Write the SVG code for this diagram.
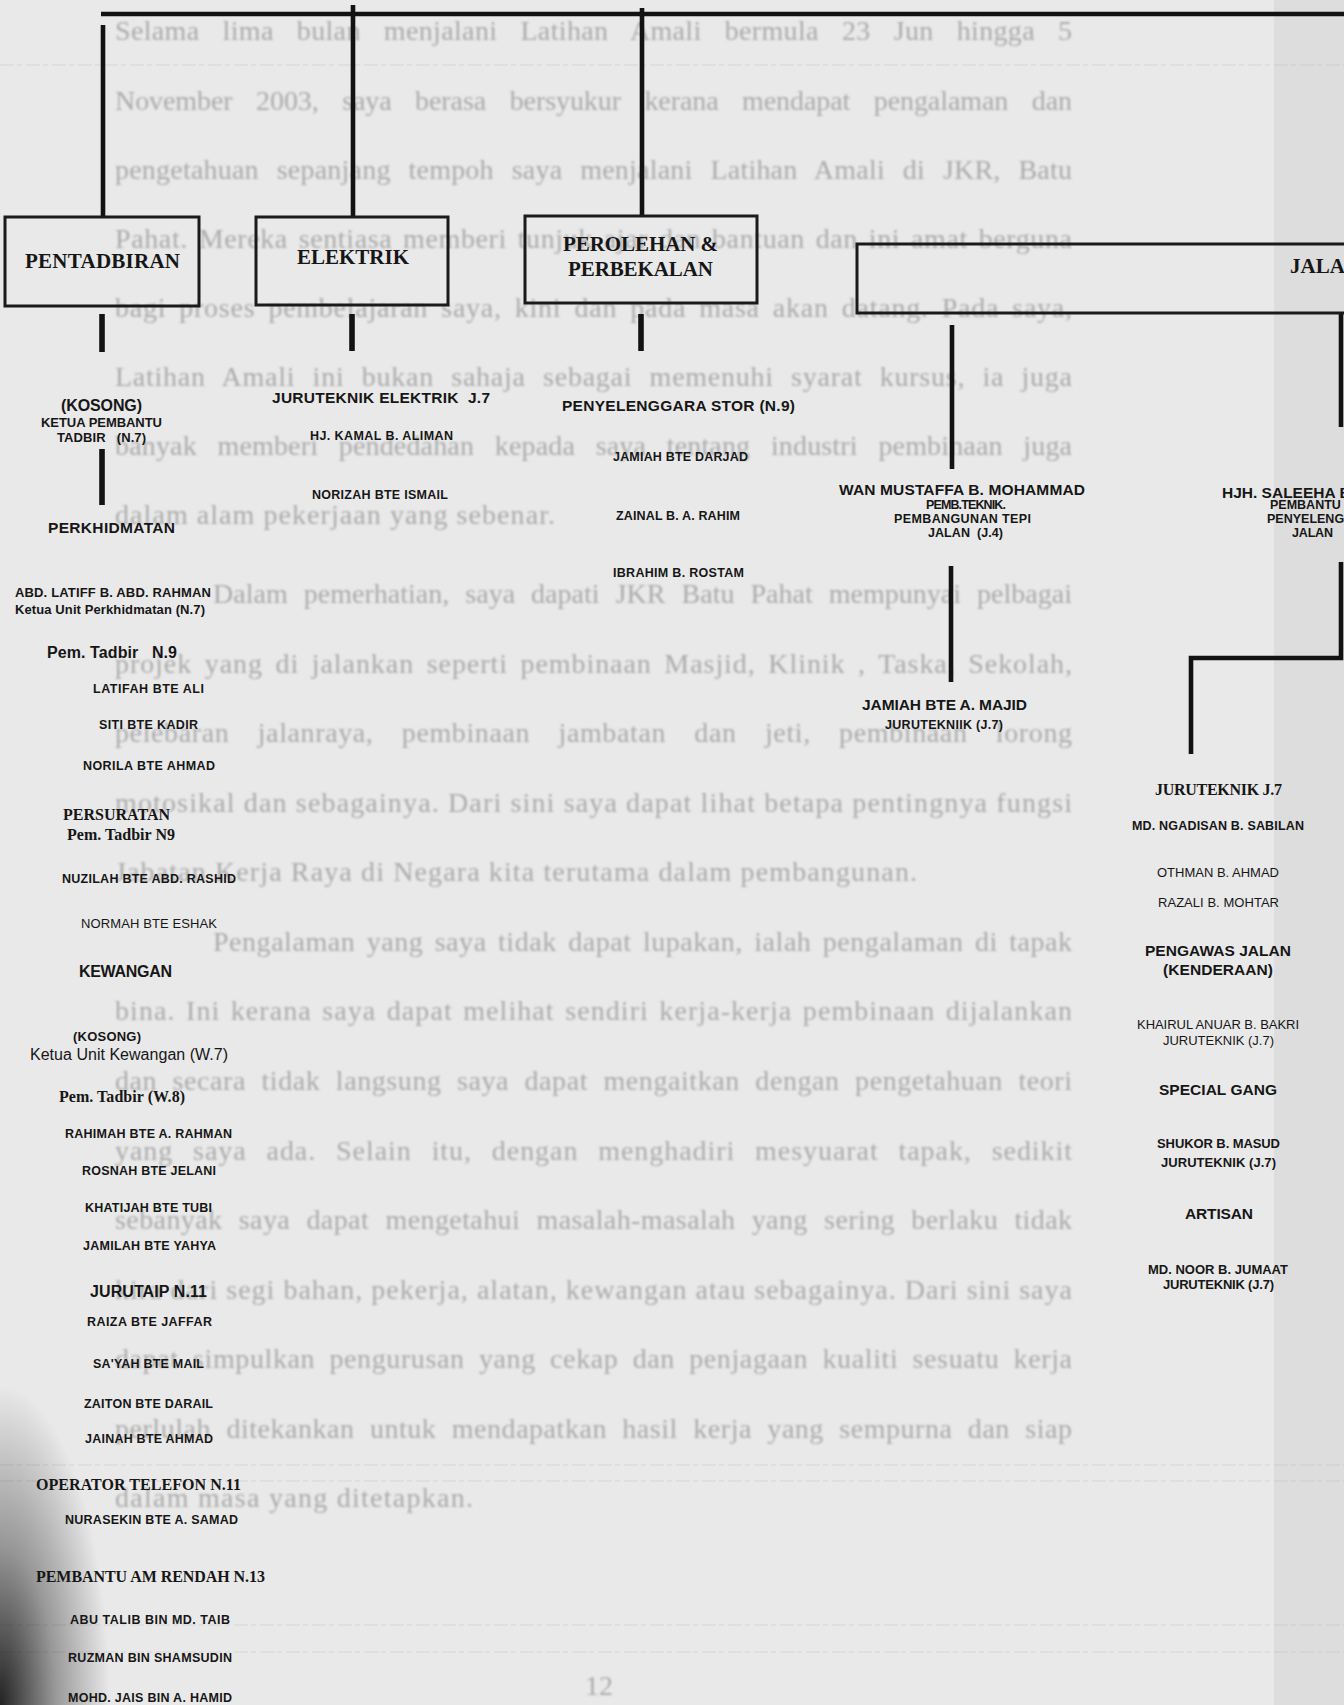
<svg xmlns="http://www.w3.org/2000/svg" width="1344" height="1705" viewBox="0 0 1344 1705">
<defs>
<style>
.bg{font-family:"Liberation Serif","Times New Roman",serif;font-size:28px;fill:#ababab}
.n{font-family:"Liberation Sans",Arial,sans-serif;font-weight:bold;fill:#161616}
.r{font-family:"Liberation Sans",Arial,sans-serif;font-weight:normal;fill:#161616}
.s{font-family:"Liberation Serif","Times New Roman",serif;font-weight:bold;fill:#161616}
.box{fill:none;stroke:#1a1a1a;stroke-width:3}
.ln{stroke:#121212;stroke-width:4.6;fill:none}
.st{stroke:#121212;stroke-width:5.6;fill:none}
.scan{stroke:#bcbcbc;stroke-width:1;stroke-dasharray:14 3 5 4;fill:none;opacity:0.4}
.f12{font-size:12.5px}.f13{font-size:13px}.f15{font-size:15.5px}.f16{font-size:16px}.f21{font-size:21px}
</style>
<filter id="blur" x="-5%" y="-5%" width="110%" height="110%"><feGaussianBlur stdDeviation="1"/></filter>
<radialGradient id="smudge" cx="0" cy="1705" r="1" gradientUnits="userSpaceOnUse" gradientTransform="translate(0 1705) scale(110 320) translate(0 -1705)">
<stop offset="0" stop-color="#000" stop-opacity="0.85"/>
<stop offset="0.5" stop-color="#000" stop-opacity="0.35"/>
<stop offset="1" stop-color="#000" stop-opacity="0"/>
</radialGradient>
</defs>
<rect width="1344" height="1705" fill="#e9e9e9"/>
<rect x="1274" y="0" width="70" height="1705" fill="#000" opacity="0.05"/>
<g id="scan-marks">
<line class="scan" x1="0" y1="65" x2="1344" y2="65"/>
<line class="scan" x1="0" y1="1465" x2="1344" y2="1465"/>
<line class="scan" x1="0" y1="1481" x2="1344" y2="1481"/>
<line class="scan" x1="0" y1="1625" x2="1344" y2="1625"/>
<line class="scan" x1="0" y1="1652" x2="1344" y2="1652"/>
</g>
<rect x="0" y="1380" width="200" height="325" fill="url(#smudge)"/>
<g id="bleed" class="bg" filter="url(#blur)">
<text x="115" y="40" textLength="957" word-spacing="15.7">Selama lima bulan menjalani Latihan Amali bermula 23 Jun hingga 5</text>
<text x="115" y="110" textLength="957" word-spacing="16.6">November 2003, saya berasa bersyukur kerana mendapat pengalaman dan</text>
<text x="115" y="179" textLength="957" word-spacing="10.7">pengetahuan sepanjang tempoh saya menjalani Latihan Amali di JKR, Batu</text>
<text x="115" y="248" textLength="957" word-spacing="3.2">Pahat. Mereka sentiasa memberi tunjuk ajar dan bantuan dan ini amat berguna</text>
<text x="115" y="317" textLength="957" word-spacing="5.4">bagi proses pembelajaran saya, kini dan pada masa akan datang. Pada saya,</text>
<text x="115" y="386" textLength="957" word-spacing="9.6">Latihan Amali ini bukan sahaja sebagai memenuhi syarat kursus, ia juga</text>
<text x="115" y="455" textLength="957" word-spacing="13.5">banyak memberi pendedahan kepada saya tentang industri pembinaan juga</text>
<text x="115" y="524" textLength="440">dalam alam pekerjaan yang sebenar.</text>
<text x="213" y="603" textLength="859" word-spacing="9">Dalam pemerhatian, saya dapati JKR Batu Pahat mempunyai pelbagai</text>
<text x="115" y="673" textLength="957" word-spacing="4.7">projek yang di jalankan seperti pembinaan Masjid, Klinik , Taska, Sekolah,</text>
<text x="115" y="742" textLength="957" word-spacing="20.7">pelebaran jalanraya, pembinaan jambatan dan jeti, pembinaan lorong</text>
<text x="115" y="812" textLength="957">motosikal dan sebagainya. Dari sini saya dapat lihat betapa pentingnya fungsi</text>
<text x="115" y="881" textLength="802">Jabatan Kerja Raya di Negara kita terutama dalam pembangunan.</text>
<text x="213" y="951" textLength="859" word-spacing="3.9">Pengalaman yang saya tidak dapat lupakan, ialah pengalaman di tapak</text>
<text x="115" y="1020" textLength="957" word-spacing="2.4">bina. Ini kerana saya dapat melihat sendiri kerja-kerja pembinaan dijalankan</text>
<text x="115" y="1090" textLength="957" word-spacing="7.9">dan secara tidak langsung saya dapat mengaitkan dengan pengetahuan teori</text>
<text x="115" y="1160" textLength="957" word-spacing="12">yang saya ada. Selain itu, dengan menghadiri mesyuarat tapak, sedikit</text>
<text x="115" y="1229" textLength="957" word-spacing="8.9">sebanyak saya dapat mengetahui masalah-masalah yang sering berlaku tidak</text>
<text x="115" y="1299" textLength="957">kira dari segi bahan, pekerja, alatan, kewangan atau sebagainya. Dari sini saya</text>
<text x="115" y="1368" textLength="957" word-spacing="6.6">dapat simpulkan pengurusan yang cekap dan penjagaan kualiti sesuatu kerja</text>
<text x="115" y="1438" textLength="957" word-spacing="7.9">perlulah ditekankan untuk mendapatkan hasil kerja yang sempurna dan siap</text>
<text x="115" y="1507" textLength="358">dalam masa yang ditetapkan.</text>
<text x="585" y="1695">12</text>
</g>
<g id="connectors">
<line class="ln" x1="101" y1="14" x2="1344" y2="14"/>
<line class="ln" x1="103" y1="25" x2="103" y2="217"/>
<line class="ln" x1="353" y1="5" x2="353" y2="217"/>
<line class="ln" x1="642" y1="8" x2="642" y2="216"/>
<line class="st" x1="102" y1="314" x2="102" y2="352"/>
<line class="st" x1="352" y1="314" x2="352" y2="351"/>
<line class="st" x1="641" y1="314" x2="641" y2="351"/>
<line class="st" x1="102" y1="449" x2="102" y2="505"/>
<line class="ln" x1="952" y1="325" x2="952" y2="469"/>
<line class="ln" x1="951" y1="566" x2="951" y2="682"/>
<line class="ln" x1="1341" y1="313" x2="1341" y2="427"/>
<polyline class="ln" points="1341,562 1341,658 1191,658 1191,754"/>
</g>
<g id="pentadbiran">
<rect class="box" x="5" y="217" width="194" height="89"/>
<text class="s f21" x="25" y="268" textLength="155">PENTADBIRAN</text>
</g>
<g id="elektrik">
<rect class="box" x="256" y="217" width="192" height="88"/>
<text class="s f21" x="297" y="264" textLength="112">ELEKTRIK</text>
</g>
<g id="perolehan">
<rect class="box" x="525" y="216" width="232" height="87"/>
<text class="s f21" x="563" y="251" textLength="155">PEROLEHAN &amp;</text>
<text class="s f21" x="568" y="276" textLength="145">PERBEKALAN</text>
</g>
<g id="jalan">
<rect class="box" x="857" y="244" width="500" height="69"/>
<text class="s f21" x="1290" y="273">JALAN</text>
</g>
<g id="pentadbiran-staff">
<text class="n f16" x="61" y="411" textLength="81">(KOSONG)</text>
<text class="n f13" x="41" y="427" textLength="121">KETUA PEMBANTU</text>
<text class="n f13" x="57" y="442" textLength="89" xml:space="preserve">TADBIR   (N.7)</text>
<text class="n f15" x="48" y="533" textLength="127">PERKHIDMATAN</text>
<text class="n f13" x="15" y="597" textLength="196">ABD. LATIFF B. ABD. RAHMAN</text>
<text class="n f13" x="15" y="614" textLength="190">Ketua Unit Perkhidmatan (N.7)</text>
<text class="n f16" x="47" y="658" textLength="130" xml:space="preserve">Pem. Tadbir   N.9</text>
<text class="n f12" x="93" y="693" textLength="111">LATIFAH BTE ALI</text>
<text class="n f12" x="99" y="729" textLength="99">SITI BTE KADIR</text>
<text class="n f12" x="83" y="770" textLength="132">NORILA BTE AHMAD</text>
<text class="s f16" x="63" y="820" textLength="107">PERSURATAN</text>
<text class="s f16" x="67" y="840" textLength="108">Pem. Tadbir N9</text>
<text class="n f12" x="62" y="883" textLength="174">NUZILAH BTE ABD. RASHID</text>
<text class="r f13" x="81" y="928" textLength="136">NORMAH BTE ESHAK</text>
<text class="n f16" x="79" y="977" textLength="93">KEWANGAN</text>
<text class="n f13" x="73" y="1041" textLength="68">(KOSONG)</text>
<text class="r f16" x="30" y="1060" textLength="198">Ketua Unit Kewangan (W.7)</text>
<text class="s f16" x="59" y="1102" textLength="126">Pem. Tadbir (W.8)</text>
<text class="n f12" x="65" y="1138" textLength="167">RAHIMAH BTE A. RAHMAN</text>
<text class="n f12" x="82" y="1175" textLength="134">ROSNAH BTE JELANI</text>
<text class="n f12" x="85" y="1212" textLength="127">KHATIJAH BTE TUBI</text>
<text class="n f12" x="83" y="1250" textLength="133">JAMILAH BTE YAHYA</text>
<text class="n f16" x="90" y="1297" textLength="117">JURUTAIP N.11</text>
<text class="n f12" x="87" y="1326" textLength="125">RAIZA BTE JAFFAR</text>
<text class="n f12" x="93" y="1368" textLength="111">SA'YAH BTE MAIL</text>
<text class="n f12" x="84" y="1408" textLength="129">ZAITON BTE DARAIL</text>
<text class="n f12" x="85" y="1443" textLength="128">JAINAH BTE AHMAD</text>
<text class="s f16" x="36" y="1490" textLength="205">OPERATOR TELEFON N.11</text>
<text class="n f12" x="65" y="1524" textLength="173">NURASEKIN BTE A. SAMAD</text>
<text class="s f16" x="36" y="1582" textLength="229">PEMBANTU AM RENDAH N.13</text>
<text class="n f12" x="70" y="1624" textLength="160">ABU TALIB BIN MD. TAIB</text>
<text class="n f12" x="68" y="1662" textLength="164">RUZMAN BIN SHAMSUDIN</text>
<text class="n f12" x="68" y="1702" textLength="164">MOHD. JAIS BIN A. HAMID</text>
</g>
<g id="elektrik-staff">
<text class="n f15" x="272" y="403" textLength="218" xml:space="preserve">JURUTEKNIK ELEKTRIK  J.7</text>
<text class="n f12" x="310" y="440" textLength="143">HJ. KAMAL B. ALIMAN</text>
<text class="n f12" x="312" y="499" textLength="136">NORIZAH BTE ISMAIL</text>
</g>
<g id="perolehan-staff">
<text class="n f15" x="562" y="411" textLength="233">PENYELENGGARA STOR (N.9)</text>
<text class="n f12" x="613" y="461" textLength="135">JAMIAH BTE DARJAD</text>
<text class="n f12" x="616" y="520" textLength="124">ZAINAL B. A. RAHIM</text>
<text class="n f12" x="613" y="577" textLength="131">IBRAHIM B. ROSTAM</text>
</g>
<g id="pembangunan-tepi-jalan">
<text class="n f15" x="839" y="495" textLength="246">WAN MUSTAFFA B. MOHAMMAD</text>
<text class="n f12" x="926" y="509" textLength="80">PEMB.TEKNIK.</text>
<text class="n f12" x="894" y="523" textLength="137">PEMBANGUNAN TEPI</text>
<text class="n f12" x="928" y="537" textLength="75" xml:space="preserve">JALAN  (J.4)</text>
<text class="n f15" x="862" y="710" textLength="165">JAMIAH BTE A. MAJID</text>
<text class="n f12" x="885" y="729" textLength="118">JURUTEKNIIK (J.7)</text>
</g>
<g id="penyelenggaraan-jalan">
<text class="n f15" x="1222" y="498">HJH. SALEEHA B</text>
<text class="n f12" x="1270" y="509">PEMBANTU</text>
<text class="n f12" x="1267" y="523">PENYELENGGARA</text>
<text class="n f12" x="1292" y="537" textLength="41">JALAN</text>
</g>
<g id="jalan-staff">
<text class="s f16" x="1155" y="795" textLength="127">JURUTEKNIK J.7</text>
<text class="n f12" x="1132" y="830" textLength="172">MD. NGADISAN B. SABILAN</text>
<text class="r f13" x="1157" y="877" textLength="122">OTHMAN B. AHMAD</text>
<text class="r f13" x="1158" y="907" textLength="121">RAZALI B. MOHTAR</text>
<text class="n f15" x="1145" y="956" textLength="146">PENGAWAS JALAN</text>
<text class="n f15" x="1163" y="975" textLength="110">(KENDERAAN)</text>
<text class="r f13" x="1137" y="1029" textLength="162">KHAIRUL ANUAR B. BAKRI</text>
<text class="r f13" x="1163" y="1045" textLength="111">JURUTEKNIK (J.7)</text>
<text class="n f15" x="1159" y="1095" textLength="118">SPECIAL GANG</text>
<text class="n f13" x="1157" y="1148" textLength="123">SHUKOR B. MASUD</text>
<text class="n f13" x="1161" y="1167" textLength="115">JURUTEKNIK (J.7)</text>
<text class="n f15" x="1185" y="1219" textLength="68">ARTISAN</text>
<text class="n f13" x="1148" y="1274" textLength="140">MD. NOOR B. JUMAAT</text>
<text class="n f13" x="1163" y="1289" textLength="111">JURUTEKNIK (J.7)</text>
</g>
</svg>
